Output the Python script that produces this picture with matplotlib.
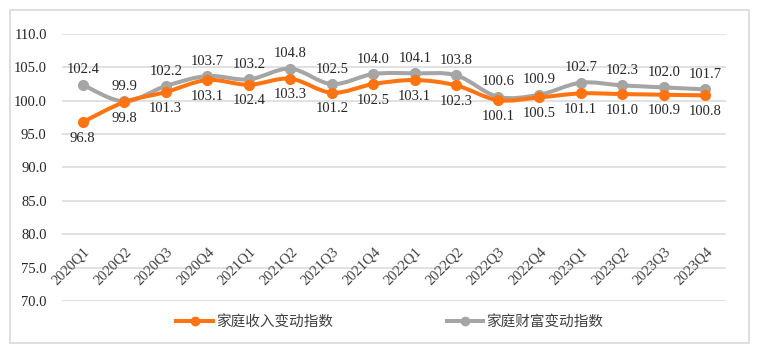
import numpy as np
import matplotlib
matplotlib.use('Agg')
from matplotlib import pyplot as plt
from matplotlib.path import Path
from matplotlib.patches import PathPatch, Rectangle
from matplotlib.lines import Line2D

quarters = ['2020Q1', '2020Q2', '2020Q3', '2020Q4', '2021Q1', '2021Q2', '2021Q3', '2021Q4',
            '2022Q1', '2022Q2', '2022Q3', '2022Q4', '2023Q1', '2023Q2', '2023Q3', '2023Q4']
income = [96.8, 99.8, 101.3, 103.1, 102.4, 103.3, 101.2, 102.5,
          103.1, 102.3, 100.1, 100.5, 101.1, 101.0, 100.9, 100.8]
wealth = [102.4, 99.9, 102.2, 103.7, 103.2, 104.8, 102.5, 104.0,
          104.1, 103.8, 100.6, 100.9, 102.7, 102.3, 102.0, 101.7]
income_name = '家庭收入变动指数'
wealth_name = '家庭财富变动指数'
yticks = [70, 75, 80, 85, 90, 95, 100, 105, 110]

orange = '#FF7410'
gray = '#A5A5A5'
serif = 'Liberation Serif'


#smooth curve through the points, like the spreadsheet "smoothed line" option
def smoothPath(xs, ys):
    pts = np.column_stack([xs, ys])
    n = len(pts)
    verts = [pts[0]]
    codes = [Path.MOVETO]
    for i in range(n - 1):
        p0 = pts[i - 1] if i > 0 else pts[i]
        p1 = pts[i]
        p2 = pts[i + 1]
        p3 = pts[i + 2] if i + 2 < n else pts[i + 1]
        c1 = p1 + (p2 - p0) / 6
        c2 = p2 - (p3 - p1) / 6
        verts += [c1, c2, p2]
        codes += [Path.CURVE4] * 3
    return Path(verts, codes)


fig = plt.figure(figsize=(7.81, 3.6), dpi=100)
ax = fig.add_axes([62/781, 1 - 301/360, 664/781, 267/360])

fig.patches.append(Rectangle((10/781, 1 - 343/360), 739/781, 333/360, transform=fig.transFigure,
                             fill=False, edgecolor='#D9D9D9', linewidth=1.2))

x = np.arange(len(quarters))
for vals, col, z in [(wealth, gray, 3), (income, orange, 4)]:
    ax.add_patch(PathPatch(smoothPath(x, vals), fill=False, edgecolor=col, linewidth=2.9,
                           capstyle='round', zorder=z))
    ax.plot(x, vals, linestyle='none', marker='o', markersize=7, color=col, zorder=z)

for i in x:
    ax.annotate('%.1f' % wealth[i], (i, wealth[i]), xytext=(0, 6), textcoords='offset points',
                ha='center', va='bottom', fontsize=10.5, family=serif, color='#262626')
    ax.annotate('%.1f' % income[i], (i, income[i]), xytext=(0, -7), textcoords='offset points',
                ha='center', va='top', fontsize=10.5, family=serif, color='#262626')
    ax.text(i + 0.12, 77.7, quarters[i], rotation=45, rotation_mode='anchor', ha='right',
            va='center', fontsize=10.5, family=serif, color='#404040')

ax.set_xlim(-0.5, len(quarters) - 0.5)
ax.set_ylim(70, 110)
ax.set_yticks(yticks)
ax.set_yticklabels(['%.1f' % v for v in yticks], family=serif, fontsize=10.5, color='#262626')
ax.set_xticks([])
ax.tick_params(axis='y', length=0, pad=11)
ax.grid(axis='y', color='#D9D9D9', linewidth=1.1)
ax.set_axisbelow(True)
for s in ax.spines.values():
    s.set_visible(False)

handles = [Line2D([], [], color=orange, lw=2.9, marker='o', markersize=6),
           Line2D([], [], color=gray, lw=2.9, marker='o', markersize=6)]
leg = fig.legend(handles, [income_name, wealth_name], loc='center', bbox_to_anchor=(0.499, 0.104),
                 ncol=2, frameon=False, handlelength=2.5, handletextpad=0.2, columnspacing=7.8,
                 prop={'family': ['Noto Sans CJK SC', 'DejaVu Sans'], 'size': 10.5})
for t in leg.get_texts():
    t.set_color('#404040')

fig.savefig('out.png', dpi=100)
